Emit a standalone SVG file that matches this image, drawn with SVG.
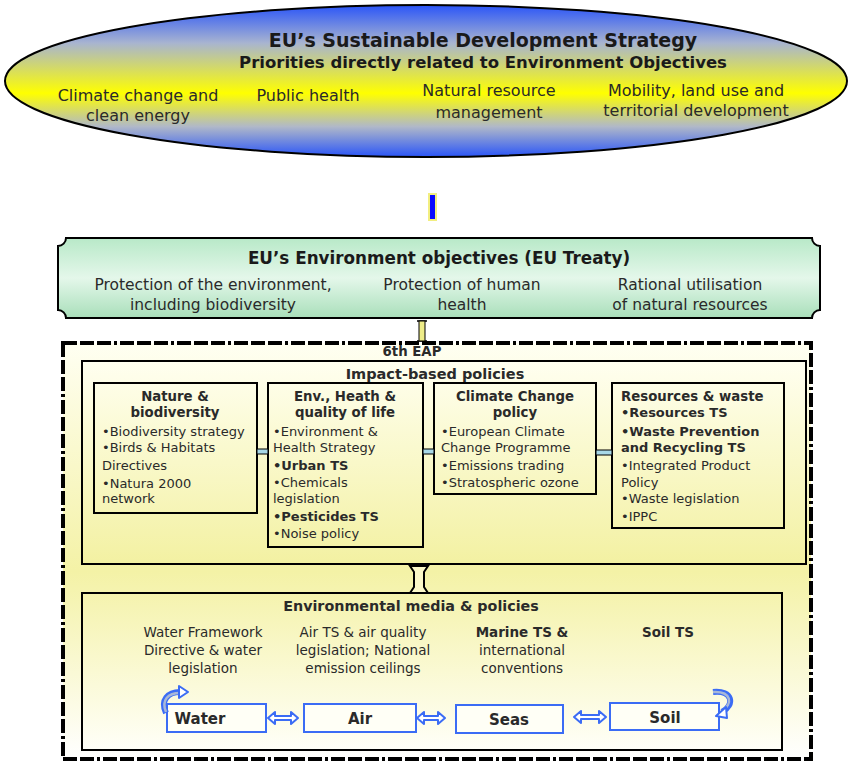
<svg xmlns="http://www.w3.org/2000/svg" width="850" height="762" viewBox="0 0 850 762">
<defs>
<linearGradient id="gEll" x1="0" y1="0" x2="0" y2="1">
<stop offset="0" stop-color="#2a55f8"/>
<stop offset="0.25" stop-color="#a8b4d0"/>
<stop offset="0.58" stop-color="#ffff00"/>
<stop offset="0.8" stop-color="#b0b8c8"/>
<stop offset="1" stop-color="#2a55f8"/>
</linearGradient>
<linearGradient id="gGreen" x1="0" y1="0" x2="0" y2="1">
<stop offset="0" stop-color="#b8e9c8"/>
<stop offset="0.5" stop-color="#e4f7ea"/>
<stop offset="1" stop-color="#a9dfba"/>
</linearGradient>
<linearGradient id="gEap" x1="0" y1="0" x2="0" y2="1">
<stop offset="0" stop-color="#fffff2"/>
<stop offset="0.55" stop-color="#f4f2a6"/>
<stop offset="1" stop-color="#ffffff"/>
</linearGradient>
<linearGradient id="gImp" x1="0" y1="0" x2="0" y2="1">
<stop offset="0" stop-color="#fffff0"/>
<stop offset="1" stop-color="#f3f1a2"/>
</linearGradient>
<linearGradient id="gMed" x1="0" y1="0" x2="0" y2="1">
<stop offset="0" stop-color="#f5f3ae"/>
<stop offset="1" stop-color="#fffff8"/>
</linearGradient>
</defs>
<style>
text{font-family:"DejaVu Sans","Liberation Sans",sans-serif;fill:#2a2a2a}
.t1{font-size:19px;font-weight:bold;text-anchor:middle;fill:#1a1a1a}
.t2{font-size:16.5px;font-weight:bold;text-anchor:middle;fill:#1a1a1a}
.it{font-size:16px;text-anchor:middle}
.gt{font-size:16.8px;font-weight:bold;text-anchor:middle;fill:#1a1a1a}
.gi{font-size:15.5px;text-anchor:middle}
.h{font-size:13.3px;font-weight:bold}
.hc{font-size:13.3px;font-weight:bold;text-anchor:middle}
.s{font-size:13px}
.sb{font-size:13px;font-weight:bold}
.mt{font-size:14.3px;font-weight:bold;text-anchor:middle}
.mi{font-size:13.5px;text-anchor:middle}
.bl{font-size:15px;font-weight:bold;text-anchor:middle}
.box{fill:none;stroke:#000;stroke-width:2}
.bbox{fill:#fffff6;stroke:#3b6cf5;stroke-width:2}
.barr{fill:#ffffff;stroke:#3b6cf5;stroke-width:2;stroke-linejoin:round}
.lnk{fill:#a8d8e8;stroke:#000;stroke-width:1}
</style>

<g id="sds">
<ellipse cx="426" cy="81" rx="421" ry="76" fill="url(#gEll)" stroke="#000" stroke-width="2"/>
<text class="t1" x="483" y="47">EU’s Sustainable Development Strategy</text>
<text class="t2" x="483" y="68">Priorities directly related to Environment Objectives</text>
<text class="it" x="138" y="101">Climate change and</text>
<text class="it" x="138" y="121">clean energy</text>
<text class="it" x="308" y="101">Public health</text>
<text class="it" x="489" y="96">Natural resource</text>
<text class="it" x="489" y="118">management</text>
<text class="it" x="696" y="96">Mobility, land use and</text>
<text class="it" x="696" y="116">territorial development</text>
</g>

<g id="treaty">
<path d="M66,238 H812 A8,8 0 0 0 820,246 V310 A8,8 0 0 0 812,318 H66 A8,8 0 0 0 58,310 V246 A8,8 0 0 0 66,238 Z" fill="url(#gGreen)" stroke="#000" stroke-width="2"/>
<text class="gt" x="439" y="264">EU’s Environment objectives (EU Treaty)</text>
<text class="gi" x="213" y="290">Protection of the environment,</text>
<text class="gi" x="213" y="310">including biodiversity</text>
<text class="gi" x="462" y="290">Protection of human</text>
<text class="gi" x="462" y="310">health</text>
<text class="gi" x="690" y="290">Rational utilisation</text>
<text class="gi" x="690" y="310">of natural resources</text>
</g>

<g id="eap">
<rect x="63" y="343" width="748" height="416" fill="url(#gEap)" stroke="#000" stroke-width="4" stroke-dasharray="14 3 14 3 14 3 3 3"/>
<text class="h" x="412" y="356" text-anchor="middle">6th EAP</text>
</g>

<g id="impact">
<rect x="82" y="361" width="724" height="203" fill="url(#gImp)" stroke="#000" stroke-width="2"/>
<text class="h" x="435" y="379" text-anchor="middle" style="font-size:14.5px">Impact-based policies</text>
</g>

<g id="nature">
<rect class="box" x="94" y="383" width="163" height="130"/>
<text class="hc" x="175" y="401">Nature &amp;</text>
<text class="hc" x="175" y="417">biodiversity</text>
<text class="s" x="102" y="436">•Biodiversity strategy</text>
<text class="s" x="102" y="452">•Birds &amp; Habitats</text>
<text class="s" x="102" y="470">Directives</text>
<text class="s" x="102" y="488">•Natura 2000</text>
<text class="s" x="102" y="503">network</text>
</g>

<g id="health">
<rect class="box" x="268" y="383" width="155" height="164"/>
<text class="hc" x="345" y="401">Env., Heath &amp;</text>
<text class="hc" x="345" y="417">quality of life</text>
<text class="s" x="273" y="436">•Environment &amp;</text>
<text class="s" x="273" y="452">Health Strategy</text>
<text class="sb" x="273" y="470">•Urban TS</text>
<text class="s" x="273" y="487">•Chemicals</text>
<text class="s" x="273" y="503">legislation</text>
<text class="sb" x="273" y="521">•Pesticides TS</text>
<text class="s" x="273" y="538">•Noise policy</text>
</g>

<g id="climate">
<rect class="box" x="434" y="383" width="162" height="111"/>
<text class="hc" x="515" y="401">Climate Change</text>
<text class="hc" x="515" y="417">policy</text>
<text class="s" x="441" y="436">•European Climate</text>
<text class="s" x="441" y="452">Change Programme</text>
<text class="s" x="441" y="470">•Emissions trading</text>
<text class="s" x="441" y="487">•Stratospheric ozone</text>
</g>

<g id="resources">
<rect class="box" x="612" y="383" width="172" height="145"/>
<text class="h" x="621" y="401">Resources &amp; waste</text>
<text class="sb" x="621" y="417">•Resources TS</text>
<text class="sb" x="621" y="436">•Waste Prevention</text>
<text class="sb" x="621" y="452">and Recycling TS</text>
<text class="s" x="621" y="470">•Integrated Product</text>
<text class="s" x="621" y="487">Policy</text>
<text class="s" x="621" y="503">•Waste legislation</text>
<text class="s" x="621" y="521">•IPPC</text>
</g>

<g id="media">
<rect x="82" y="593" width="700" height="157" fill="url(#gMed)" stroke="#000" stroke-width="2"/>
<text class="mt" x="411" y="611">Environmental media &amp; policies</text>
<text class="mi" x="203" y="637">Water Framework</text>
<text class="mi" x="203" y="655">Directive &amp; water</text>
<text class="mi" x="203" y="673">legislation</text>
<text class="mi" x="363" y="637">Air TS &amp; air quality</text>
<text class="mi" x="363" y="655">legislation; National</text>
<text class="mi" x="363" y="673">emission ceilings</text>
<text class="mi" x="522" y="637" font-weight="bold">Marine TS &amp;</text>
<text class="mi" x="522" y="655">international</text>
<text class="mi" x="522" y="673">conventions</text>
<text class="mi" x="668" y="637" font-weight="bold">Soil TS</text>
</g>

<g id="water">
<rect class="bbox" x="167" y="704" width="99" height="28"/>
<text class="bl" x="200" y="724">Water</text>
</g>
<g id="air">
<rect class="bbox" x="304" y="704" width="112" height="28"/>
<text class="bl" x="360" y="724">Air</text>
</g>
<g id="seas">
<rect class="bbox" x="456" y="705" width="107" height="28"/>
<text class="bl" x="509" y="725">Seas</text>
</g>
<g id="soil">
<rect class="bbox" x="610" y="703" width="109" height="27"/>
<text class="bl" x="665" y="723">Soil</text>
</g>

<g id="connectors">
<rect x="429" y="194" width="7" height="26" fill="#0a0aff" stroke="#f2ee80" stroke-width="2"/>
<path d="M417,321 H427 M417,341 H427" stroke="#000" stroke-width="1.5"/>
<rect x="419" y="321" width="6" height="20" fill="#eeec88" stroke="#000" stroke-width="1"/>
<rect class="lnk" x="257" y="449" width="11" height="5"/>
<rect class="lnk" x="423" y="449" width="11" height="5"/>
<rect class="lnk" x="596" y="450" width="16" height="5"/>
<path d="M410,566 H428 L424,572 V587 L428,593 H410 L414,587 V572 Z" fill="#fbf8c8" stroke="#000" stroke-width="2"/>
<path class="barr" d="M268,718 L275,712 V716 H291 V712 L298,718 L291,724 V720 H275 V724 Z"/>
<path class="barr" d="M417,718 L424,712 V716 H438 V712 L445,718 L438,724 V720 H424 V724 Z"/>
<path class="barr" d="M574,717 L581,711 V715 H599 V711 L606,717 L599,723 V719 H581 V723 Z"/>
<path d="M166,713 C160,700 168,692 180,692" fill="none" stroke="#3b6cf5" stroke-width="6"/>
<path d="M166,712 C161,700 168,693 180,693" fill="none" stroke="#a8b8d8" stroke-width="2.5"/>
<path class="barr" d="M179,686 L188,692 L179,698 Z"/>
<path d="M713,692 C733,690 735,705 722,712" fill="none" stroke="#3b6cf5" stroke-width="6"/>
<path d="M713,692 C732,691 733,704 722,711" fill="none" stroke="#a8b8d8" stroke-width="2.5"/>
<path class="barr" d="M726,707 L716,716 L727,718 Z"/>
</g>
</svg>
